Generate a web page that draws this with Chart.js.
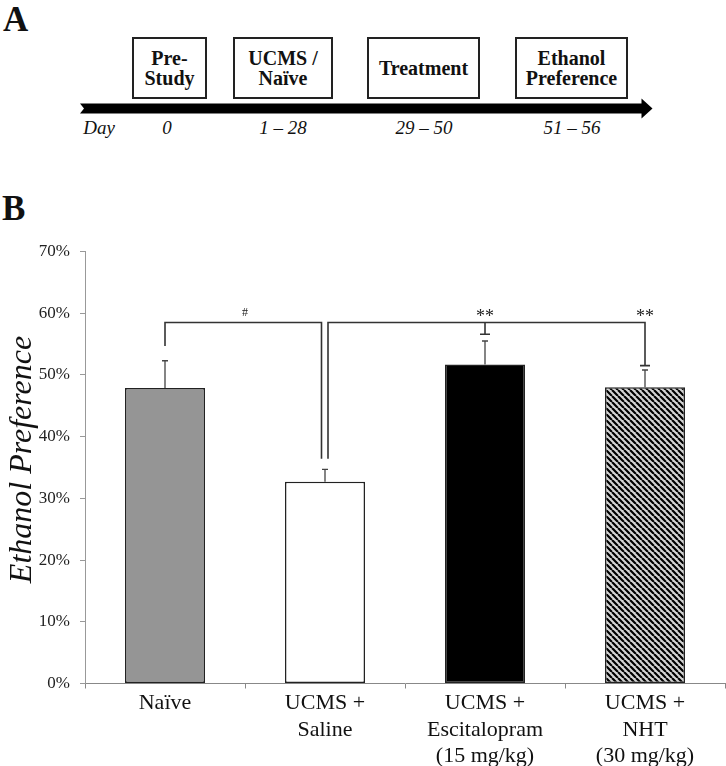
<!DOCTYPE html>
<html>
<head>
<meta charset="utf-8">
<script src="https://cdn.jsdelivr.net/npm/chart.js@4/dist/chart.umd.min.js"></script>
<style>
  body { margin: 0; background: #fff; font-family: "Liberation Serif", "Times New Roman", Times, serif; color: #111; }
  #page { position: relative; width: 726px; height: 766px; overflow: hidden; }
  .panel { position: absolute; font-family: "Liberation Serif", serif; font-weight: bold; font-size: 35px; line-height: 35px; }
  .box { position: absolute; box-sizing: border-box; border: 2px solid #222; display: flex;
         align-items: center; justify-content: center; text-align: center;
         font-family: "Liberation Serif", serif; font-weight: bold; font-size: 20px; line-height: 20px; }
  .day { position: absolute; top: 118px; font-family: "Liberation Serif", serif; font-style: italic;
         font-size: 19px; line-height: 20px; transform: translateX(-50%); white-space: nowrap; }
  #arrow { position: absolute; left: 0; top: 0; }
  #chartB { position: absolute; left: 0; top: 240px; }
</style>
</head>
<body>
<div id="page">
  <div class="panel" style="left:3px;top:2px">A</div>

  <svg id="arrow" width="726" height="140">
    <polygon points="80,103.5 641.5,103.5 641.5,98.5 652.5,108.5 641.5,118.5 641.5,113.5 80,113.5 84,108.5" fill="#000"/>
  </svg>
  <div class="box" style="left:132px;top:37px;width:75px;height:62px">Pre-<br>Study</div>
  <div class="box" style="left:233px;top:37px;width:100px;height:62px">UCMS /<br>Naïve</div>
  <div class="box" style="left:367px;top:37px;width:113px;height:62px">Treatment</div>
  <div class="box" style="left:515px;top:37px;width:113px;height:62px">Ethanol<br>Preference</div>

  <div class="day" style="left:99px">Day</div>
  <div class="day" style="left:167px">0</div>
  <div class="day" style="left:283px">1 – 28</div>
  <div class="day" style="left:424px">29 – 50</div>
  <div class="day" style="left:572px">51 – 56</div>

  <div class="panel" style="left:2px;top:191px">B</div>
  <canvas id="chartB" width="726" height="526"></canvas>
</div>

<script>
'use strict';
(function () {
    // dane (w %)
    var categories = [['Naïve'], ['UCMS +', 'Saline'], ['UCMS +', 'Escitalopram', '(15 mg/kg)'], ['UCMS +', 'NHT', '(30 mg/kg)']];
    var preference = [47.9, 32.7, 51.7, 48.0];
    var sem = [4.4, 2.0, 3.8, 2.8];
    var yTicks = [0, 10, 20, 30, 40, 50, 60, 70];

    // poziomy klamer istotnosci (w %)
    var bracketLevel = 58.5;
    var bracketEnds = [54.7, 36.4, 56.6, 51.5];

    // wzor kreskowania dla NHT
    function hatch() {
        var p = 6;
        var c = document.createElement('canvas');
        c.width = p; c.height = p;
        var g = c.getContext('2d');
        g.fillStyle = '#d4d4d4';
        g.fillRect(0, 0, p, p);
        g.strokeStyle = '#000';
        g.lineWidth = 2.2;
        g.beginPath();
        for (var i = -1; i <= 1; i++) {
            g.moveTo(i * p, 0);
            g.lineTo(i * p + p, p);
        }
        g.stroke();
        return g.createPattern(c, 'repeat');
    }

    var ctx = document.getElementById('chartB').getContext('2d');

    var marks = {
        id: 'marks',
        afterDatasetsDraw: function (chart) {
            var c = chart.ctx;
            var bars = chart.getDatasetMeta(0).data;
            var y = chart.scales.y;
            c.save();

            // slupki bledow (tylko w gore)
            c.strokeStyle = '#444';
            c.lineWidth = 1.3;
            bars.forEach(function (b, i) {
                var top = y.getPixelForValue(preference[i] + sem[i]);
                c.beginPath();
                c.moveTo(b.x, b.y);
                c.lineTo(b.x, top);
                c.moveTo(b.x - 3, top);
                c.lineTo(b.x + 3, top);
                c.stroke();
            });

            // klamry
            var lvl = y.getPixelForValue(bracketLevel);
            c.strokeStyle = '#333';
            c.lineWidth = 1.6;
            c.beginPath();
            c.moveTo(bars[0].x, y.getPixelForValue(bracketEnds[0]));
            c.lineTo(bars[0].x, lvl);
            c.lineTo(bars[1].x - 3.5, lvl);
            c.lineTo(bars[1].x - 3.5, y.getPixelForValue(bracketEnds[1]));
            c.moveTo(bars[1].x + 3, y.getPixelForValue(bracketEnds[1]));
            c.lineTo(bars[1].x + 3, lvl);
            c.lineTo(bars[3].x, lvl);
            c.lineTo(bars[3].x, y.getPixelForValue(bracketEnds[3]));
            c.moveTo(bars[3].x - 5, y.getPixelForValue(bracketEnds[3]));
            c.lineTo(bars[3].x + 5, y.getPixelForValue(bracketEnds[3]));
            c.moveTo(bars[2].x, lvl);
            c.lineTo(bars[2].x, y.getPixelForValue(bracketEnds[2]));
            c.moveTo(bars[2].x - 5, y.getPixelForValue(bracketEnds[2]));
            c.lineTo(bars[2].x + 5, y.getPixelForValue(bracketEnds[2]));
            c.stroke();

            // oznaczenia
            c.fillStyle = '#222';
            c.textAlign = 'center';
            c.textBaseline = 'middle';
            c.font = '12px "Liberation Serif"';
            c.fillText('#', (bars[0].x + bars[1].x) / 2, lvl - 10);
            c.font = '18px "Liberation Serif"';
            c.fillText('**', bars[2].x, lvl - 5);
            c.fillText('**', bars[3].x, lvl - 5);
            c.restore();
        }
    };

    var serif = 'Liberation Serif';

    new Chart(ctx, {
        type: 'bar',
        data: {
            labels: categories,
            datasets: [{
                data: preference,
                backgroundColor: ['#959595', '#ffffff', '#000000', hatch()],
                borderColor: '#222',
                borderWidth: 1.5,
                borderSkipped: false,
                barPercentage: 0.5,
                categoryPercentage: 1
            }]
        },
        options: {
            responsive: false,
            animation: false,
            layout: { padding: { top: 11.5, right: 1 } },
            plugins: { legend: { display: false }, tooltip: { enabled: false } },
            scales: {
                x: {
                    grid: { drawOnChartArea: false, tickLength: 5, color: '#888', offset: true },
                    border: { color: '#888' },
                    ticks: {
                        color: '#111', padding: 2, maxRotation: 0, autoSkip: false,
                        font: { family: serif, size: 22, lineHeight: 1.2 }
                    },
                    afterFit: function (s) { s.height = 82.5 }
                },
                y: {
                    min: 0,
                    max: 70,
                    afterBuildTicks: function (s) {
                        s.ticks = yTicks.map(function (v) { return { value: v } })
                    },
                    grid: { drawOnChartArea: false, tickLength: 5, color: '#999' },
                    border: { color: '#999' },
                    ticks: {
                        color: '#222', padding: 10,
                        font: { family: serif, size: 17 },
                        callback: function (v) { return v + '%' }
                    },
                    title: {
                        display: true,
                        text: '\u00a0\u00a0Ethanol Preference',
                        color: '#111',
                        font: { family: serif, size: 32, style: 'italic' },
                        padding: { top: 3, bottom: 0 }
                    },
                    afterFit: function (s) {
                        s.width = 85;
                        s.paddingTop = 0;
                        s.paddingBottom = 0;
                    }
                }
            }
        },
        plugins: [marks]
    });
})();
</script>
</body>
</html>
